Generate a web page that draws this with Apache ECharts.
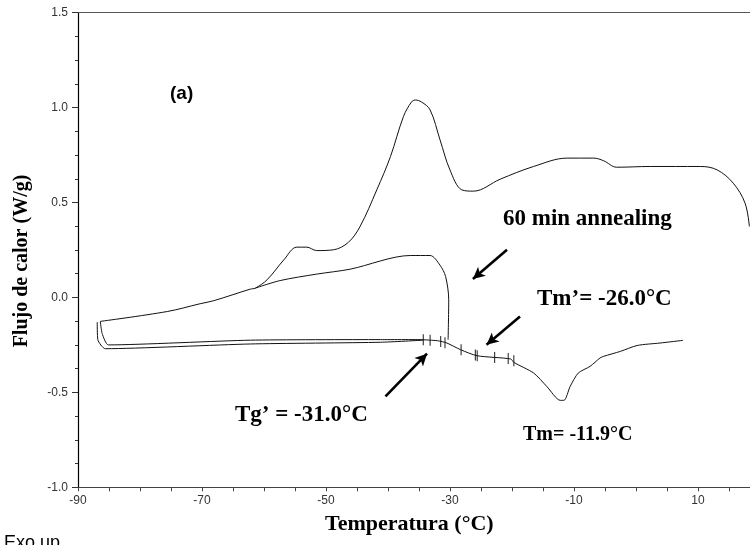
<!DOCTYPE html>
<html>
<head>
<meta charset="utf-8">
<script src="https://cdn.jsdelivr.net/npm/echarts@6/dist/echarts.min.js"></script>
<style>html,body{margin:0;padding:0;background:#fff}#c{width:750px;height:545px}</style>
</head>
<body>
<div id="c"></div>
<script>
// Top curve (no annealing)
const topX = [-86.4,-75.6,-70.3,-68.1,-62.2,-61.4,-59.5,-56.8,-54.7,-53.1,-51.5,-48.8,-46.4,-44.5,-41.8,-39.6,-37.5,-36.2,-35.6,-34.6,-33.2,-31.6,-30,-28.1,-26.2,-21.9,-16.5,-11.1,-6.8,-5.2,-3.1,2.3,10.4,13.1,15.7,17.6,18.3];
const topY = [-0.126,-0.074,-0.033,-0.017,0.044,0.049,0.093,0.198,0.265,0.265,0.247,0.251,0.29,0.374,0.567,0.742,0.953,1.03,1.04,1.03,0.988,0.83,0.672,0.567,0.56,0.623,0.69,0.734,0.734,0.72,0.686,0.69,0.69,0.672,0.602,0.497,0.374];
// 60 min annealing curve (upper part and drop)
const annX = [-61.4,-57.4,-51.5,-46.1,-36.4,-33.2,-31.6,-30.7,-30.2,-30.3];
const annY = [0.049,0.089,0.123,0.149,0.221,0.221,0.17,0.11,-0.012,-0.223];
// Left loops (cooling ends) and lower baselines
const outerX = [-86.9,-86.8,-85.6,-62.2,-41.2,-34.3];
const outerY = [-0.13,-0.223,-0.27,-0.245,-0.236,-0.225];
const innerX = [-86.4,-86.1,-85.1,-62.2,-41.2,-34.3];
const innerY = [-0.126,-0.19,-0.25,-0.225,-0.222,-0.222];
// Glass transition / melting region
const tailX = [-34.3,-32,-30.5,-28.3,-25.6,-20.2,-19.7,-16.5,-14.4,-12.2,-11.6,-10.6,-9.3,-7.4,-5.8,-5.2,-2.5,0.2,3.9,7.6];
const tailY = [-0.223,-0.228,-0.24,-0.275,-0.307,-0.324,-0.342,-0.398,-0.468,-0.542,-0.542,-0.468,-0.398,-0.363,-0.319,-0.31,-0.284,-0.253,-0.24,-0.226];
// Small vertical tick marks on the curve
const markX = [-34.3,-33.2,-31.5,-30.8,-28.2,-25.9,-25.6,-22.8,-20.6,-19.7];
const markY = [-0.223,-0.225,-0.232,-0.238,-0.276,-0.303,-0.307,-0.316,-0.322,-0.334];
// Annotation arrows [x1,y1,x2,y2] (tail -> head)
const arrows = [[-20.8,0.251,-26.3,0.097],[-18.7,-0.1,-24.1,-0.249],[-40.4,-0.521,-33.7,-0.296]];

const zip = (xs, ys) => xs.map((x, i) => [x, ys[i]]);
const lineS = (d, sm) => ({type:'line', data:d, showSymbol:false, symbol:'none', smooth:sm, lineStyle:{color:'#111', width:1}, silent:true, animation:false});

const chart = echarts.init(document.getElementById('c'));
chart.setOption({
  animation:false,
  grid:{left:78, right:0, top:12.7, bottom:57.7},
  xAxis:[{
    type:'value', min:-90, max:18.4, interval:5,
    axisLine:{onZero:false, lineStyle:{color:'#444', width:1.2}},
    axisTick:{length:4, lineStyle:{color:'#444'}},
    splitLine:{show:false},
    axisLabel:{color:'#333', fontFamily:'Liberation Sans', fontSize:12, margin:7, showMaxLabel:false,
      formatter:v => ((Math.round(v)+90)%20===0 ? String(Math.round(v)) : '')}
  },{
    type:'value', position:'top', min:-90, max:18.4,
    axisLine:{show:true, onZero:false, lineStyle:{color:'#555', width:1.2}},
    axisTick:{show:false}, axisLabel:{show:false}, splitLine:{show:false}
  }],
  yAxis:{
    type:'value', min:-1, max:1.5, interval:0.5,
    axisLine:{show:true, onZero:false, lineStyle:{color:'#000', width:1.2}},
    axisTick:{length:6, lineStyle:{color:'#333'}},
    minorTick:{show:true, splitNumber:4, length:3, lineStyle:{color:'#333'}},
    splitLine:{show:false},
    axisLabel:{color:'#333', fontFamily:'Liberation Sans', fontSize:12, margin:10, formatter:v => v.toFixed(1)}
  },
  series:[
    lineS(zip(topX, topY), 0.35),
    lineS(zip(annX, annY), 0.3),
    lineS(zip(outerX, outerY), 0.2),
    lineS(zip(innerX, innerY), 0.2),
    lineS(zip(tailX, tailY), 0.25),
    {type:'scatter', data:zip(markX, markY), symbol:'rect', symbolSize:[1.2,11], itemStyle:{color:'#111'}, silent:true},
    {type:'line', data:[], silent:true,
      markLine:{silent:true, symbol:['none','arrow'], symbolSize:[9,12], label:{show:false},
        lineStyle:{color:'#000', width:2.6, type:'solid'},
        data:arrows.map(a => [{coord:[a[0],a[1]]},{coord:[a[2],a[3]]}])}}
  ],
  graphic:[
    {type:'text', left:170, top:84, style:{text:'(a)', font:'bold 19px "Liberation Sans"', fill:'#000'}},
    {type:'text', left:503, top:208, style:{text:'60 min annealing', font:'bold 23px "Liberation Serif"', fill:'#000'}},
    {type:'text', left:537, top:288, style:{text:'Tm’= -26.0°C', font:'bold 23px "Liberation Serif"', fill:'#000'}},
    {type:'text', left:235, top:404, style:{text:'Tg’ = -31.0°C', font:'bold 23px "Liberation Serif"', fill:'#000'}},
    {type:'text', left:523, top:425, style:{text:'Tm= -11.9°C', font:'bold 20px "Liberation Serif"', fill:'#000'}},
    {type:'text', left:325, top:513, style:{text:'Temperatura (°C)', font:'bold 22px "Liberation Serif"', fill:'#000'}},
    {type:'text', x:22, y:261, rotation:Math.PI/2, style:{text:'Flujo de calor (W/g)', font:'bold 20px "Liberation Serif"', fill:'#000', textAlign:'center', textVerticalAlign:'middle'}},
    {type:'text', left:4, top:534, style:{text:'Exo up', font:'18px "Liberation Sans"', fill:'#000'}}
  ]
});
</script>
</body>
</html>
